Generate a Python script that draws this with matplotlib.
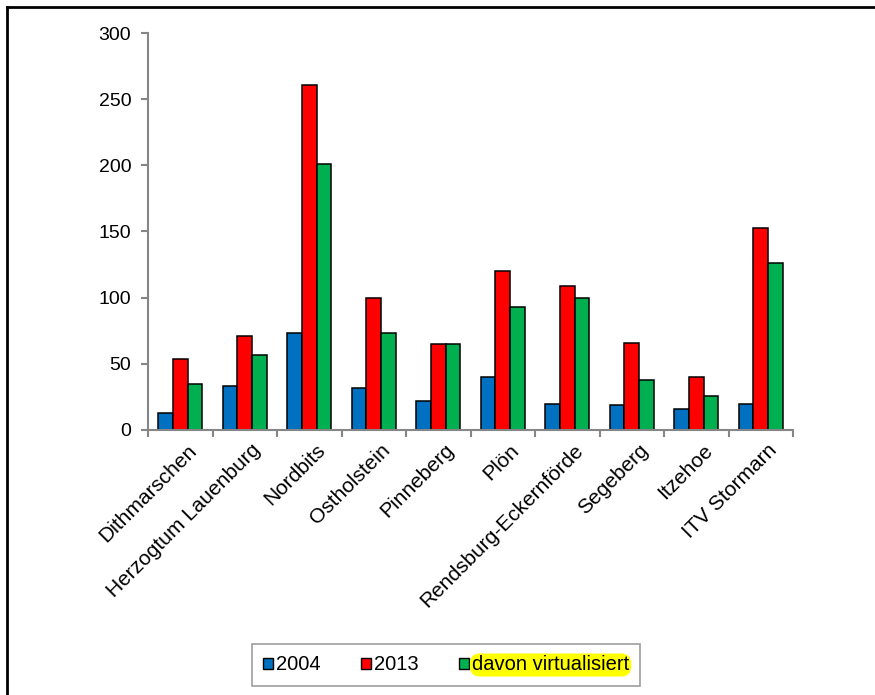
import matplotlib
matplotlib.use("Agg")
import matplotlib.pyplot as plt
from matplotlib.lines import Line2D
import numpy as np

plt.rcParams['font.family'] = ['Liberation Sans', 'DejaVu Sans']

# Rechenzentren und Anzahl Server
standorte = ['Dithmarschen', 'Herzogtum Lauenburg', 'Nordbits', 'Ostholstein',
             'Pinneberg', 'Plön', 'Rendsburg-Eckernförde', 'Segeberg',
             'Itzehoe', 'ITV Stormarn']
werte_2004 = [13, 33, 73, 32, 22, 40, 20, 19, 16, 20]
werte_2013 = [54, 71, 261, 100, 65, 120, 109, 66, 40, 153]
virtualisiert = [35, 57, 201, 73, 65, 93, 100, 38, 26, 126]

fig = plt.figure(figsize=(8.75, 6.95), dpi=100)
ax = fig.add_axes([148/875, 1 - 430/695, 645/875, 397/695])

x = np.arange(len(standorte))
b = 0.225
grau = '#868686'
ax.bar(x - b, werte_2004, b, color='#0070C0', edgecolor='black', linewidth=1.1, label='2004')
ax.bar(x, werte_2013, b, color='#FF0000', edgecolor='black', linewidth=1.1, label='2013')
ax.bar(x + b, virtualisiert, b, color='#00B050', edgecolor='black', linewidth=1.1,
       label='davon virtualisiert')

ax.set_xlim(-0.5, len(standorte) - 0.5)
ax.set_ylim(0, 300)
ax.set_yticks(range(0, 301, 50))
ax.tick_params(axis='y', labelsize=14, length=5, width=1.5, color=grau, pad=7)

# Trennstriche zwischen den Gruppen
ax.set_xticks(np.arange(-0.5, len(standorte)), minor=False)
ax.set_xticklabels([])
ax.tick_params(axis='x', length=5, width=1.5, color=grau)
for i, name in enumerate(standorte):
    ax.text(i + 0.1, -8, name, rotation=45, ha='right', va='top', rotation_mode='anchor',
            fontsize=15, transform=ax.transData)

for s in ['top', 'right']:
    ax.spines[s].set_visible(False)
for s in ['left', 'bottom']:
    ax.spines[s].set_color(grau)
    ax.spines[s].set_linewidth(1.5)

leg = fig.legend(loc='center', bbox_to_anchor=(446/875, 1 - 665/695), ncol=3,
                 fontsize=14.5, frameon=True, fancybox=False, edgecolor=grau,
                 handlelength=0.5, handleheight=0.5, handletextpad=0.15,
                 columnspacing=2.0, borderpad=0.55, borderaxespad=0)
leg.get_frame().set_linewidth(1.2)
for patch in leg.get_patches():
    patch.set_linewidth(1.0)
leg.get_texts()[2].set_bbox(dict(boxstyle='round,pad=0.1,rounding_size=0.5',
                                 facecolor='yellow', edgecolor='none'))

# Rahmen oben und links
fig.add_artist(Line2D([7/875, 7/875], [0, 1 - 7/695], color='black', linewidth=2))
fig.add_artist(Line2D([7/875, 1], [1 - 7/695, 1 - 7/695], color='black', linewidth=2))

fig.savefig('out.png', dpi=100)
